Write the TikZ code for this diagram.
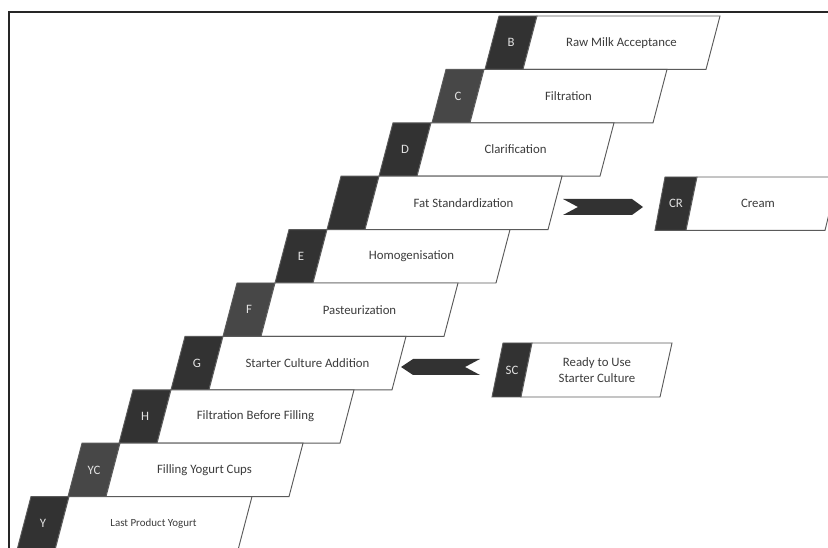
\documentclass[tikz,border=0pt]{standalone}
\usepackage{fontspec}
\setmainfont{Carlito}
\definecolor{darkA}{HTML}{323232}
\definecolor{darkB}{HTML}{474747}
\definecolor{edgeC}{HTML}{5A5A5A}
\definecolor{txt}{HTML}{3C3C3C}
\definecolor{lbl}{HTML}{E2E2E2}
\tikzset{
  darkpart/.style={draw=edgeC, line width=0.7pt},
  whitepart/.style={draw=edgeC, fill=white, line width=0.7pt},
  steptext/.style={text=txt, font=\fontsize{9.6}{11.5}\selectfont, align=center},
  steplabel/.style={text=lbl, font=\fontsize{9.6}{11.5}\selectfont},
  chev/.style={fill=darkA, draw=none},
  frameline/.style={draw=black!85, line width=0.9pt}
}
% #1 name, #2 X (top-left of dark block), #3 Y (top), #4 letter, #5 text, #6 dark colour
\newcommand{\procrow}[6]{%
  \fill[darkpart, fill=#6] (#2,#3) -- ++(38,0) -- ++(-14,53.4) -- ++(-38,0) -- cycle;
  \path[whitepart] (#2+38,#3) -- ++(183,0) -- ++(-14,53.4) -- ++(-183,0) -- cycle;
  \node[steplabel] (#1l) at (#2+12,#3+26.7) {#4};
  \node[steptext] (#1) at (#2+122.5,#3+26.7) {#5};
}
\begin{document}
\begin{tikzpicture}[x=0.75pt,y=-0.75pt]
\useasboundingbox (0,0) rectangle (828,548);
\clip (0,0) rectangle (828,548);
\draw[frameline] (8,12) -- (828,12);
\draw[frameline] (9,12) -- (9,548);

\procrow{B}{499}{16}{B}{Raw Milk Acceptance}{darkA}
\procrow{C}{446}{69.4}{C}{Filtration}{darkB}
\procrow{D}{393}{122.8}{D}{Clarification}{darkA}
\procrow{FS}{341}{176.2}{}{Fat Standardization}{darkA}
\procrow{E}{289}{229.6}{E}{Homogenisation}{darkA}
\procrow{F}{237}{283}{F}{Pasteurization}{darkB}
\procrow{G}{185}{336.4}{G}{Starter Culture Addition}{darkA}
\procrow{H}{133}{389.8}{H}{Filtration Before Filling}{darkA}
\procrow{YC}{82}{443.2}{YC}{Filling Yogurt Cups}{darkB}
\fill[darkpart, fill=darkA] (31,496.6) -- ++(38,0) -- ++(-14,53.4) -- ++(-38,0) -- cycle;
\path[whitepart] (69,496.6) -- ++(183,0) -- ++(-14,53.4) -- ++(-183,0) -- cycle;
\node[steplabel] (Yl) at (43,523.3) {Y};
\node[steptext, font=\fontsize{8.2}{10}\selectfont] (Y) at (153.5,523.3) {Last Product Yogurt};

% Cream box
\fill[darkpart, fill=darkA] (665,177) -- (697,177) -- (686,230.4) -- (655,230.4) -- cycle;
\path[whitepart] (697,177) -- (838,177) -- (825,230.4) -- (686,230.4) -- cycle;
\node[steplabel] (CRl) at (676,203.7) {CR};
\node[steptext] (CR) at (758,203.7) {Cream};

% Starter culture box
\fill[darkpart, fill=darkA] (503,343) -- (532,343) -- (521,397) -- (492,397) -- cycle;
\path[whitepart] (532,343) -- (672,343) -- (660,397) -- (521,397) -- cycle;
\node[steplabel] (SCl) at (512,370) {SC};
\node[steptext] (SC) at (597,370) {Ready to Use\\Starter Culture};

% chevron arrows
\fill[chev] (563,199) -- (632,199) -- (643,207) -- (632,215) -- (563,215) -- (578,207) -- cycle;
\fill[chev] (401,367) -- (413,359) -- (480,359) -- (465,367) -- (480,375) -- (413,375) -- cycle;
\end{tikzpicture}
\end{document}
